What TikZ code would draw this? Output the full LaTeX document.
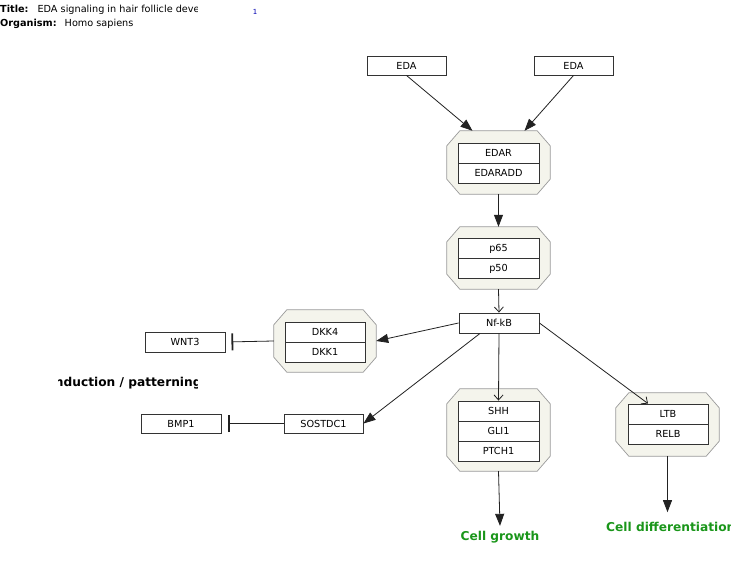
\documentclass[tikz,border=0pt]{standalone}
\usepackage{fontspec}
\setmainfont{DejaVu Sans}
\usetikzlibrary{arrows.meta,calc}
\definecolor{cfill}{HTML}{F4F4EC}
\definecolor{cborder}{HTML}{9A9A9A}
\definecolor{cgreen}{HTML}{1A961A}
\definecolor{cedge}{HTML}{222222}
\newcommand\octagon[1]{%
  \filldraw[fill=cfill,draw=cborder,line width=0.7pt]
    ($(#1.north west)+(13,0)$) -- ($(#1.north east)+(-13,0)$) --
    ($(#1.north east)+(0,15)$) -- ($(#1.south east)+(0,-15)$) --
    ($(#1.south east)+(-13,0)$) -- ($(#1.south west)+(13,0)$) --
    ($(#1.south west)+(0,-15)$) -- ($(#1.north west)+(0,15)$) -- cycle;}
\begin{document}
\begin{tikzpicture}[x=1pt,y=-1pt,
  gene/.style={draw=black!80, fill=white, line width=0.9pt, minimum width=80pt,
    minimum height=20pt, inner sep=0pt, font=\fontsize{9.7}{11}\selectfont},
  cplx/.style={draw=none, inner sep=0pt, minimum width=103pt},
  hdr/.style={anchor=west, inner sep=0pt, font=\fontsize{9.7}{11}\selectfont},
  pheno/.style={text=cgreen, inner sep=0pt, font=\fontsize{12.2}{14}\selectfont\bfseries},
  conv/.style={draw=cedge, line width=0.8pt, -{Triangle[length=12pt,width=9pt]}},
  openarr/.style={draw=cedge, line width=0.8pt, -{Straight Barb[length=5pt,width=9pt]}},
  inhib/.style={draw=cedge, line width=0.8pt, -{Bar[width=17pt,line width=1.8pt]}}]
\useasboundingbox (0,0) rectangle (742,561);
\fill[white] (0,0) rectangle (742,561);

% header
\begin{scope}
\clip (0,0) rectangle (197,30);
\node[hdr] (ttl) at (0,10) {\textbf{Title:}\hspace{9pt}EDA signaling in hair follicle development};
\end{scope}
\node[hdr] (org) at (0,24) {\textbf{Organism:}\hspace{8pt}Homo sapiens};
\node[inner sep=0pt, text=blue!70!black, font=\fontsize{7}{8}\selectfont] (num) at (255,12) {1};

% top ligands
\node[gene, minimum width=79pt, minimum height=19pt] (eda1) at (406.5,65.5) {EDA};
\node[gene, minimum width=79pt, minimum height=19pt] (eda2) at (573.5,65.5) {EDA};

% complexes
\node[cplx, minimum height=63pt] (c1) at (498.5,162.5) {};
\octagon{c1}
\node[gene, minimum width=81pt] (edar) at (498.5,153) {EDAR};
\node[gene, minimum width=81pt] (edaradd) at (498.5,173) {EDARADD};

\node[cplx, minimum height=62pt] (c2) at (498.5,258) {};
\octagon{c2}
\node[gene, minimum width=81pt] (p65) at (498.5,248.5) {p65};
\node[gene, minimum width=81pt] (p50) at (498.5,268.5) {p50};

\node[gene] (nfkb) at (499,323) {Nf-kB};

\node[cplx, minimum width=102pt, minimum height=62pt] (c3) at (325,341) {};
\octagon{c3}
\node[gene] (dkk4) at (325,332) {DKK4};
\node[gene] (dkk1) at (325,352) {DKK1};

\node[gene] (wnt3) at (185,342) {WNT3};
\node[gene, minimum height=19pt] (bmp1) at (181,423.5) {BMP1};
\node[gene, minimum width=79pt, minimum height=19pt] (sostdc1) at (323.5,423.5) {SOSTDC1};

\node[cplx, minimum height=82pt] (c4) at (498.5,430) {};
\octagon{c4}
\node[gene, minimum width=81pt] (shh) at (498.5,411) {SHH};
\node[gene, minimum width=81pt] (gli1) at (498.5,431) {GLI1};
\node[gene, minimum width=81pt] (ptch1) at (498.5,451) {PTCH1};

\node[cplx, minimum height=63pt] (c5) at (667.5,424.5) {};
\octagon{c5}
\node[gene] (ltb) at (668,414) {LTB};
\node[gene] (relb) at (668,434) {RELB};

% labels
\begin{scope}
\clip (58,370) rectangle (197,395);
\node[inner sep=0pt, font=\fontsize{12.2}{14}\selectfont\bfseries] (induct) at (126,383) {Induction / patterning};
\end{scope}
\node[pheno] (growth) at (500,537) {Cell growth};
\begin{scope}
\clip (600,515) rectangle (730,540);
\node[pheno, anchor=west] (diff) at (606,527) {Cell differentiation};
\end{scope}

% edges
\draw[conv] (eda1.south) -- ($(c1.north)+(-26,0)$);
\draw[conv] (eda2.south) -- ($(c1.north)+(26,0)$);
\draw[conv] (c1.south) -- (c2.north);
\draw[openarr] (c2.south) -- (nfkb.north);
\draw[conv] (nfkb.west) -- (c3.east);
\draw[conv] ($(nfkb.south)+(-19,0)$) -- (sostdc1.east);
\draw[openarr] (nfkb.south) -- (shh.north);
\draw[openarr] (nfkb.east) -- ($(ltb.north)+(-20,0)$);
\draw[inhib, shorten >=6pt] (c3.west) -- (wnt3.east);
\draw[inhib, shorten >=7pt] (sostdc1.west) -- (bmp1.east);
\draw[conv] (c4.south) -- ($(growth.north)+(0,-5)$);
\draw[conv] (c5.south) -- ($(c5.south)+(0,56)$) coordinate (dtop);
\end{tikzpicture}
\end{document}
